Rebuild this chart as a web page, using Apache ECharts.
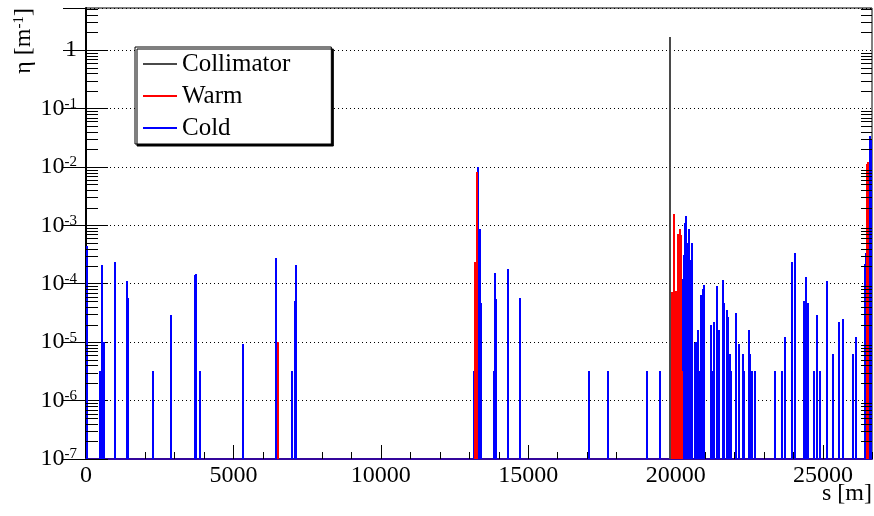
<!DOCTYPE html>
<html><head><meta charset="utf-8">
<script src="https://cdn.jsdelivr.net/npm/echarts@6/dist/echarts.min.js"></script>
<style>html,body{margin:0;padding:0;background:#fff}#c{width:874px;height:516px}</style>
</head><body><div id="c"></div>
<script>
// ---- axis ranges / tick labels ----
const xMin = 0, xMax = 26659;
const yMin = 1e-7, yMax = 5.25;
const xMajorTicks = [0, 5000, 10000, 15000, 20000, 25000];
const yDecadeExponents = [-7, -6, -5, -4, -3, -2, -1, 0];
const seriesNames = ['Collimator', 'Warm', 'Cold'];

// ---- data: position s [m] and loss eta [1/m] ----
const collimatorS = [19820];
const collimatorEta = [1.65];

const warmS = [6515, 13190, 13245, 19855, 19890, 19935, 19975, 20000, 20065, 20095, 20130, 20160, 20190, 20215, 26500, 26540];
const warmEta = [1.0e-5, 2.4e-4, 8.2e-3, 7.2e-5, 7.2e-5, 1.55e-3, 7.5e-5, 7.5e-5, 7.2e-4, 7.2e-4, 8.5e-4, 8.5e-4, 6.8e-4, 3.2e-6, 1.1e-2, 1.2e-2];

const coldS = [20, 475, 530, 620, 985, 1390, 1410, 2263, 2870, 2890, 3690, 3715, 3870, 5318,
  6440, 6460, 7000, 7080, 7115,
  13145, 13295, 13350, 13405, 13837, 13882, 13900, 14323, 14730,
  17060, 17695, 19030, 19480,
  20238, 20260, 20286, 20320, 20345, 20364, 20390, 20409, 20435, 20466, 20490, 20510, 20535, 20557, 20659, 20700, 20771, 20815, 20863, 20930, 20975,
  21200, 21246, 21304, 21416, 21473, 21620, 21653, 21732, 21766, 21857, 21891,
  22061, 22153, 22275, 22309, 22492, 22512, 22580, 22706,
  23375, 23622, 23714, 23962, 24063, 24369, 24437, 24494, 24698, 24800, 24912,
  25139, 25343, 25547, 25659, 25999, 26100,
  26430, 26470, 26560, 26600, 26625];
const coldEta = [4.4e-4, 3.2e-6, 2.1e-4, 1.0e-5, 2.4e-4, 1.1e-4, 5.6e-5, 3.2e-6, 6.3e-6, 2.9e-5, 1.4e-4, 1.45e-4, 3.2e-6, 9.3e-6,
  3.7e-5, 2.75e-4, 3.2e-6, 5.0e-5, 2.1e-4,
  3.2e-6, 1.0e-2, 8.7e-4, 4.7e-5, 3.2e-6, 1.55e-4, 5.4e-5, 1.76e-4, 5.8e-5,
  3.2e-6, 3.2e-6, 3.2e-6, 3.2e-6,
  1.6e-5, 1.2e-4, 3.1e-4, 1.1e-3, 6.0e-4, 1.43e-3, 5.0e-4, 4.0e-4, 3.0e-4, 8.7e-4, 2.0e-4, 1.07e-4, 2.5e-4, 4.9e-4, 9.7e-6, 1.0e-5, 1.6e-5, 3.2e-6, 6.3e-5, 8.0e-5, 9.6e-5,
  1.93e-5, 3.2e-6, 2.2e-5, 9.0e-5, 1.6e-5, 1.14e-4, 4.6e-5, 3.5e-5, 2.7e-5, 6.3e-6, 3.2e-6,
  3.1e-5, 9.4e-6, 6.3e-6, 3.2e-6, 1.6e-5, 6.3e-6, 3.2e-6, 3.2e-6,
  3.2e-6, 3.2e-6, 1.25e-5, 2.4e-4, 3.4e-4, 5.0e-5, 1.3e-4, 4.6e-5, 3.2e-6, 2.9e-5, 3.2e-6,
  1.1e-4, 6.3e-6, 2.2e-5, 2.5e-5, 6.3e-6, 1.25e-5,
  2.2e-4, 3.3e-4, 5.0e-3, 3.4e-2, 3.0e-2];

// minor ticks on the log axis (2..9 in each decade)
const yMinorTicks = [];
for (let e = -7; e <= 0; e++) for (let m = 2; m <= 9; m++) {
  const v = m * Math.pow(10, e);
  if (v < yMax) yMinorTicks.push(v);
}

const FONT = '"Liberation Serif", "Times New Roman", "DejaVu Serif", Times, serif';
const colors = { Collimator: '#4a4a4a', Warm: '#ff0000', Cold: '#0000ff' };

function pairs(xs, ys) { return xs.map((x, i) => [x, ys[i]]); }

function spikeItem(params, api) {
  const x = api.value(0), v = api.value(1);
  const top = api.coord([x, v]);
  const bot = api.coord([x, yMin]);
  const px = Math.round(top[0]) - 1;
  return { type: 'rect', shape: { x: px, y: Math.round(top[1]), width: 2, height: Math.round(bot[1]) - Math.round(top[1]) },
    style: { fill: api.visual('color') } };
}
function minorTickItem(params, api) {
  const y = Math.round(api.coord([xMin, api.value(1)])[1]) + 0.5;
  const cs = params.coordSys;
  return { type: 'group', children: [
    { type: 'line', shape: { x1: cs.x, y1: y, x2: cs.x + 12, y2: y }, style: { stroke: '#000', lineWidth: 1 } },
    { type: 'line', shape: { x1: cs.x + cs.width, y1: y, x2: cs.x + cs.width - 11, y2: y }, style: { stroke: '#000', lineWidth: 1 } }
  ] };
}
function yLabel(v) {
  const lg = Math.log10(v), e = Math.round(lg);
  if (Math.abs(lg - e) > 0.01 || yDecadeExponents.indexOf(e) < 0) return '';
  if (e === 0) return '{n|1}';
  return '{n|10}{s|' + e + '}';
}

const chart = echarts.init(document.getElementById('c'), null, { renderer: 'canvas' });
chart.setOption({
  animation: false,
  backgroundColor: '#fff',
  textStyle: { fontFamily: FONT },
  grid: { left: 86, top: 8, right: 2, bottom: 57, show: true, borderColor: '#000', borderWidth: 1, backgroundColor: '#fff' },
  legend: {
    left: 135, top: 47, orient: 'vertical',
    data: seriesNames,
    icon: 'rect', itemWidth: 34, itemHeight: 2, itemGap: 6,
    textStyle: { fontFamily: FONT, fontSize: 25, color: '#000', lineHeight: 26 },
    backgroundColor: '#fff', borderColor: '#000', borderWidth: 1, borderRadius: 0,
    padding: [4, 41, 3, 8],
    shadowColor: '#000', shadowOffsetX: 2, shadowOffsetY: 2, shadowBlur: 0,
    selectedMode: false
  },
  xAxis: [{
    type: 'value', min: xMin, max: xMax, interval: 5000,
    axisLine: { show: true, lineStyle: { color: '#34079c', width: 2 } },
    axisTick: { show: true, inside: true, length: 14, lineStyle: { color: '#000' } },
    axisLabel: { fontFamily: FONT, fontSize: 24, color: '#000', margin: 5, showMaxLabel: false,
      formatter: v => xMajorTicks.indexOf(v) >= 0 ? String(v) : '' },
    splitLine: { show: false }
  }, {
    type: 'value', min: xMin, max: xMax, interval: 1000, position: 'bottom', gridIndex: 0,
    axisLine: { show: false },
    axisTick: { show: true, inside: true, length: 7, lineStyle: { color: '#000' } },
    axisLabel: { show: false }, splitLine: { show: false }
  }],
  yAxis: [{
    type: 'log', logBase: 10, min: yMin, max: yMax, position: 'left',
    axisLine: { show: true, lineStyle: { color: '#000', width: 2 } },
    axisTick: { show: true, inside: true, length: 22, lineStyle: { color: '#000' } },
    axisLabel: { margin: 9, showMaxLabel: false, formatter: yLabel,
      rich: { n: { fontFamily: FONT, fontSize: 24, color: '#000', lineHeight: 24 },
              s: { fontFamily: FONT, fontSize: 15, color: '#000', verticalAlign: 'top', lineHeight: 15 } } },
    splitLine: { show: true, lineStyle: { color: '#000', type: [1, 3], width: 1 } }
  }, {
    type: 'log', logBase: 10, min: yMin, max: yMax, position: 'right',
    axisLine: { show: true, lineStyle: { color: '#000', width: 1 } },
    axisTick: { show: true, inside: true, length: 23, lineStyle: { color: '#000' } },
    axisLabel: { show: false }, splitLine: { show: false }
  }],
  graphic: [
    { type: 'text', right: 2, top: 482, style: { text: 's [m]', fontFamily: FONT, fontSize: 24, fill: '#000' } },
    { type: 'text', x: 24, y: 8, rotation: Math.PI / 2,
      style: { text: '{n|η [m}{s|-1}{n|]}', align: 'right', verticalAlign: 'middle',
        rich: { n: { fontFamily: FONT, fontSize: 24, fill: '#000', lineHeight: 24 },
                s: { fontFamily: FONT, fontSize: 15, fill: '#000', verticalAlign: 'top', lineHeight: 15 } } } }
  ],
  series: [
    { name: 'Minor', type: 'custom', silent: true, xAxisIndex: 0, yAxisIndex: 0, clip: false, z: 5,
      data: yMinorTicks.map(v => [xMin, v]), renderItem: minorTickItem },
    { name: 'Cold', type: 'custom', clip: true, itemStyle: { color: colors.Cold }, z: 3,
      data: pairs(coldS, coldEta), renderItem: spikeItem },
    { name: 'Warm', type: 'custom', clip: true, itemStyle: { color: colors.Warm }, z: 3,
      data: pairs(warmS, warmEta), renderItem: spikeItem },
    { name: 'Collimator', type: 'custom', clip: true, itemStyle: { color: colors.Collimator }, z: 3,
      data: pairs(collimatorS, collimatorEta), renderItem: spikeItem }
  ]
});
</script></body></html>
